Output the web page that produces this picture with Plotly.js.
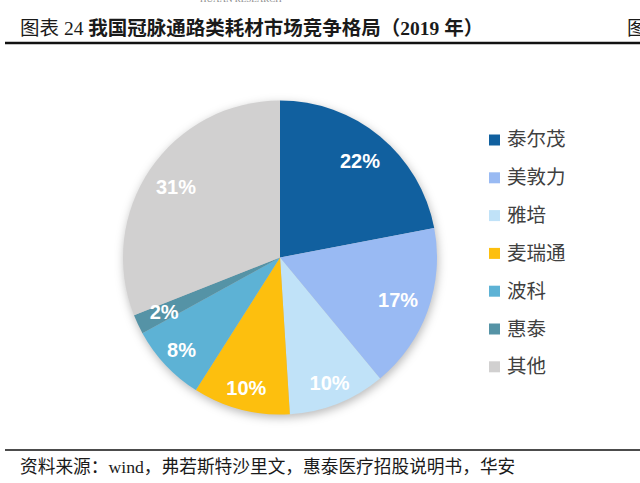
<!DOCTYPE html>
<html>
<head>
<meta charset="utf-8">
<script src="https://cdn.plot.ly/plotly-3.0.1.min.js"></script>
<style>
html,body{margin:0;padding:0;background:#fff;}
#chart{width:640px;height:483px;}
.pielayer .trace:first-child{filter:drop-shadow(1px 3px 5px rgba(0,0,0,0.28));}
</style>
</head>
<body>
<div id="chart"></div>
<script>
const labels = ['泰尔茂','美敦力','雅培','麦瑞通','波科','惠泰','其他'];
const shares = [22,17,10,10,8,2,31];
const colors = ['#11609F','#99BAF3','#C0E2F8','#FDBF0E','#5DB2D5','#5593A6','#D1D0D0'];
const titleText = '图表 24 <b>我国冠脉通路类耗材市场竞争格局（2019 年）</b>';
const sourceText = '资料来源：wind，弗若斯特沙里文，惠泰医疗招股说明书，华安';

// which label ring each slice's percentage sits on: 0 = mid ring, 1 = outer ring, 2 = thin-slice ring
const labelRing = [0, 0, 1, 1, 1, 2, 0];

const W = 640, H = 483;
const px = x => x / W;
const py = y => 1 - y / H;

const serifCJK = 'Liberation Serif, "Noto Sans CJK SC", serif';
const cx = 280, cy0 = 257.5, R = 157;
const domainFor = r => ({x: [px(cx - r), px(cx + r)], y: [py(cy0 + r), py(cy0 - r)]});

const pieTrace = {
  type: 'pie',
  labels: labels,
  values: shares,
  sort: false,
  direction: 'clockwise',
  rotation: 0,
  marker: {colors: colors, line: {width: 0}},
  textinfo: 'none',
  hoverinfo: 'none',
  showlegend: false,
  domain: domainFor(R)
};

function labelTrace(ring, hole, r) {
  return {
    type: 'pie',
    labels: labels,
    values: shares,
    sort: false,
    direction: 'clockwise',
    rotation: 0,
    hole: hole,
    marker: {colors: labels.map(() => 'rgba(0,0,0,0)'), line: {width: 0}},
    texttemplate: labelRing.map(g => g === ring ? '%{value}%' : ''),
    textposition: 'inside',
    insidetextorientation: 'horizontal',
    textfont: {family: 'Arial, Liberation Sans, sans-serif', size: 20, color: '#ffffff', weight: 'bold'},
    hoverinfo: 'none',
    showlegend: false,
    domain: domainFor(r)
  };
}

const annotations = [
  {text: titleText, x: px(18), y: py(28), xref: 'paper', yref: 'paper', xanchor: 'left', yanchor: 'middle', showarrow: false,
   font: {family: serifCJK, size: 19.5, color: '#1a1a1a'}},
  {text: '图', x: px(625), y: py(28), xref: 'paper', yref: 'paper', xanchor: 'left', yanchor: 'middle', showarrow: false,
   font: {family: serifCJK, size: 19.5, color: '#1a1a1a'}},
  {text: 'HUAAN RESEARCH', x: px(198), y: py(-1), xref: 'paper', yref: 'paper', xanchor: 'left', yanchor: 'middle', showarrow: false,
   font: {family: serifCJK, size: 9, color: '#888888'}},
  {text: sourceText, x: px(18), y: py(467), xref: 'paper', yref: 'paper', xanchor: 'left', yanchor: 'middle', showarrow: false,
   font: {family: serifCJK, size: 17.7, color: '#1a1a1a'}}
];

const shapes = [
  {type: 'line', xref: 'paper', yref: 'paper', x0: px(5), x1: px(640), y0: py(43), y1: py(43), line: {color: '#111111', width: 2.6}},
  {type: 'line', xref: 'paper', yref: 'paper', x0: px(5), x1: px(640), y0: py(450), y1: py(450), line: {color: '#111111', width: 1.3}}
];

// custom legend built from labels and colors
labels.forEach((lab, i) => {
  const ly = 140 + i * 37.8;
  shapes.push({type: 'rect', xref: 'paper', yref: 'paper', x0: px(489), x1: px(500), y0: py(ly + 5.5), y1: py(ly - 5.5),
    fillcolor: colors[i], line: {width: 0}});
  annotations.push({text: lab, x: px(505), y: py(ly), xref: 'paper', yref: 'paper', xanchor: 'left', yanchor: 'middle', showarrow: false,
    font: {family: serifCJK, size: 19.5, color: '#404040'}});
});

const layout = {
  width: W, height: H,
  margin: {l: 0, r: 0, t: 0, b: 0},
  paper_bgcolor: '#ffffff',
  plot_bgcolor: '#ffffff',
  showlegend: false,
  uniformtext: {minsize: 20, mode: 'show'},
  annotations: annotations,
  shapes: shapes
};

Plotly.newPlot('chart', [pieTrace, labelTrace(0, 0.6, R), labelTrace(1, 0.72, R), labelTrace(2, 0, 136)], layout,
  {displayModeBar: false, staticPlot: true});
</script>
</body>
</html>
